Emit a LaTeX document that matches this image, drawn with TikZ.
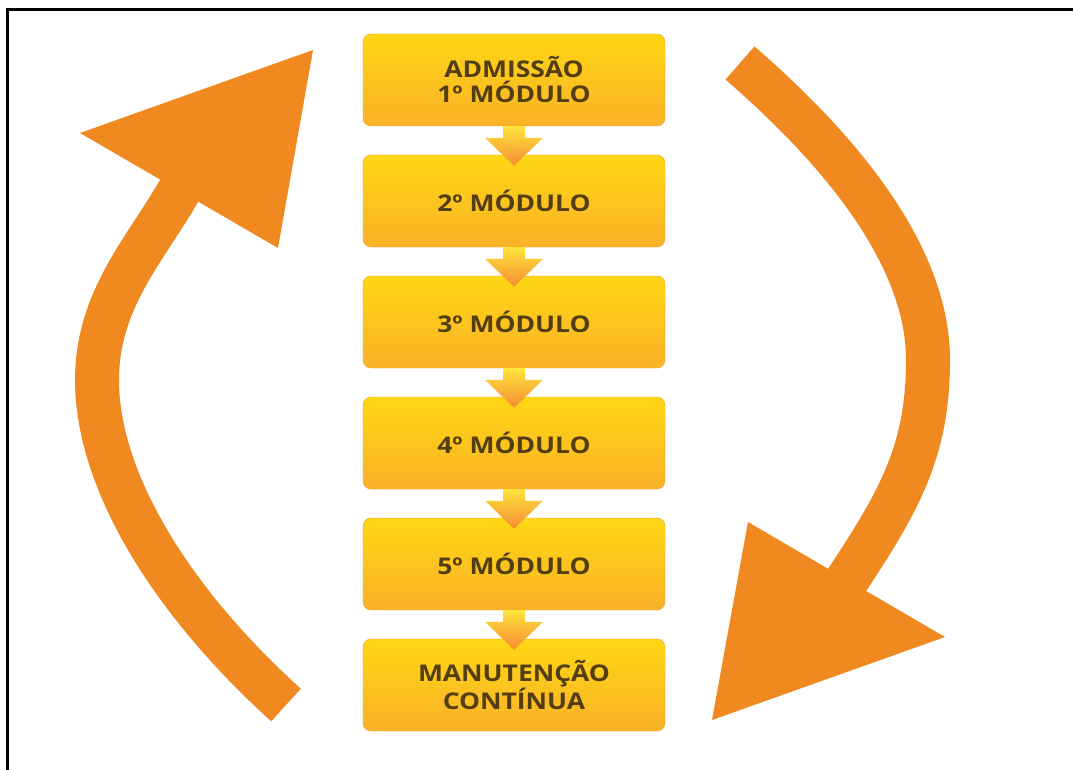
\documentclass[tikz,border=0pt]{standalone}
\usepackage{fontspec}
\newfontfamily\boxfont[FakeStretch=1.15]{Open Sans}
\usepackage{tikz}
\usetikzlibrary{calc}
\definecolor{cycleorange}{RGB}{241,137,33}
\definecolor{boxtop}{RGB}{255,214,20}
\definecolor{boxbottom}{RGB}{250,178,40}
\definecolor{boxedge}{RGB}{232,165,45}
\definecolor{boxtext}{RGB}{82,62,18}
\definecolor{arrowtop}{RGB}{255,228,60}
\definecolor{arrowbottom}{RGB}{245,140,50}

\begin{document}
\begin{tikzpicture}[
        x=1pt, y=-1pt,
        box/.style={rectangle, draw=boxedge, thin, top color=boxtop, bottom color=boxbottom, minimum width=302pt, minimum height=92pt, align=center, rounded corners=8pt, text=boxtext, font=\boxfont\bfseries\fontsize{23}{25}\selectfont},
        downarrow/.style={top color=arrowtop, bottom color=arrowbottom,
            to path={($(\tikztostart)+(-11,0)$) -- ($(\tikztotarget)+(-11,-17)$) -- ($(\tikztotarget)+(-29,-17)$) -- ($(\tikztotarget)+(0,11)$) -- ($(\tikztotarget)+(29,-17)$) -- ($(\tikztotarget)+(11,-17)$) -- ($(\tikztostart)+(11,0)$) -- cycle}},
        bigarc/.style={line width=44pt, cycleorange},
        bighead/.style={fill=cycleorange}
    ]

        % Page and frame
        \clip (0,0) rectangle (1073,770);
        \fill[white] (0,0) rectangle (1073,770);
        \draw[line width=3pt] (7.5,9.5) rectangle (1100,800);

        % Left arc, going up
        \coordinate (ltail) at (286,705);
        \coordinate (lhead) at (179,191);
        \draw[bigarc] (ltail) .. controls (170,600) and (97,480) .. (97,380) .. controls (97,300) and (145,250) .. (lhead) -- ++(5,-9);
        \fill[bighead] (80,133) -- (313,50) -- (278,248) -- cycle;

        % Right arc, going down
        \coordinate (rtail) at (740,63);
        \coordinate (rhead) at (847,580);
        \draw[bigarc] (rtail) .. controls (831,142) and (928,250) .. (928,360) .. controls (928,450) and (900,500) .. (rhead) -- ++(-5,8);
        \fill[bighead] (748,522) -- (945,637) -- (712,720) -- cycle;

        % Module boxes
        \node[box] (adm) at (514,80) {ADMISSÃO\\1º MÓDULO};
        \node[box] (mod2) at (514,201) {2º MÓDULO};
        \node[box] (mod3) at (514,322) {3º MÓDULO};
        \node[box] (mod4) at (514,443) {4º MÓDULO};
        \node[box] (mod5) at (514,564) {5º MÓDULO};
        \node[box] (manut) at (514,685) {MANUTENÇÃO\\CONTÍNUA};

        % Arrows between boxes
        \path[downarrow] (adm.south) to (mod2.north);
        \path[downarrow] (mod2.south) to (mod3.north);
        \path[downarrow] (mod3.south) to (mod4.north);
        \path[downarrow] (mod4.south) to (mod5.north);
        \path[downarrow] (mod5.south) to (manut.north);

    \end{tikzpicture}
\end{document}
